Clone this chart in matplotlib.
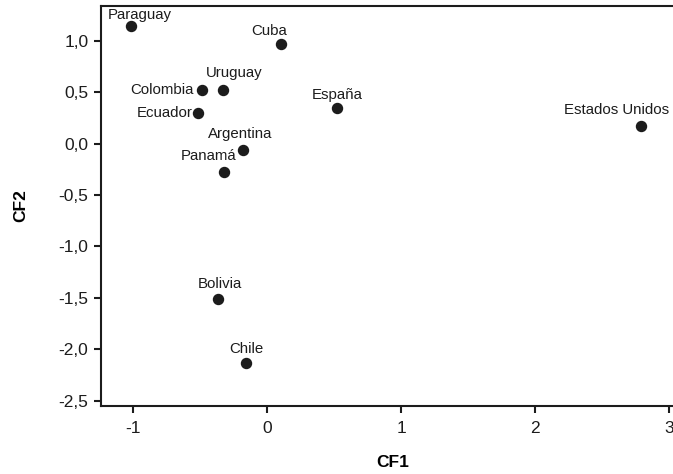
import matplotlib
matplotlib.use("Agg")
from matplotlib import pyplot as plt
from matplotlib.ticker import FuncFormatter

plt.rcParams['font.family'] = ['Liberation Sans', 'DejaVu Sans']
plt.rcParams['axes.unicode_minus'] = False

countries = ['Paraguay', 'Cuba', 'Colombia', 'Uruguay', 'Ecuador', 'Argentina',
             'Panamá', 'España', 'Estados Unidos', 'Bolivia', 'Chile']
cf1 = [-1.02, 0.10, -0.49, -0.33, -0.52, -0.18, -0.32, 0.52, 2.79, -0.37, -0.16]
cf2 = [1.14, 0.97, 0.52, 0.52, 0.30, -0.06, -0.28, 0.35, 0.17, -1.51, -2.13]

# label offsets from each point, in pixels (dx right, dy up) and alignment
label_pos = {
    'Paraguay': (9, 11, 'center'),
    'Cuba': (-12, 13, 'center'),
    'Colombia': (-8, 0, 'right'),
    'Uruguay': (11, 17, 'center'),
    'Ecuador': (-5, 0, 'right'),
    'Argentina': (-3, 16, 'center'),
    'Panamá': (-16, 16, 'center'),
    'España': (0, 13, 'center'),
    'Estados Unidos': (-24, 16, 'center'),
    'Bolivia': (2, 15, 'center'),
    'Chile': (0, 14, 'center'),
}

ink = '#1c1c1c'
fig = plt.figure(figsize=(6.73, 4.74), dpi=100)
ax = fig.add_axes([0.150, 0.144, 0.868, 0.843])

ax.plot(cf1, cf2, 'o', color=ink, ms=7.2, mec=ink, clip_on=False)

px = 72 / 100
for name, x, y in zip(countries, cf1, cf2):
    dx, dy, ha = label_pos[name]
    ax.annotate(name, (x, y), xytext=(dx * px, dy * px), textcoords='offset points',
                ha=ha, va='center', fontsize=10.8, color=ink)

ax.set_xlim(-1.243, 3.122)
ax.set_ylim(-2.55, 1.337)
ax.set_xticks([-1, 0, 1, 2, 3])
ax.set_yticks([-2.5, -2.0, -1.5, -1.0, -0.5, 0.0, 0.5, 1.0])
ax.yaxis.set_major_formatter(FuncFormatter(lambda v, p: f'{v:.1f}'.replace('.', ',')))

for s in ax.spines.values():
    s.set_linewidth(1.5)
    s.set_color(ink)
ax.tick_params(length=5, width=1.5, color=ink, labelsize=12.5, labelcolor=ink)
ax.tick_params(axis='x', pad=6)
ax.tick_params(axis='y', pad=4)

ax.set_xlabel('CF1', fontsize=12.5, fontweight='bold', labelpad=14)
ax.set_ylabel('CF2', fontsize=12.5, fontweight='bold', labelpad=22)

fig.savefig('out.png', dpi=100)
